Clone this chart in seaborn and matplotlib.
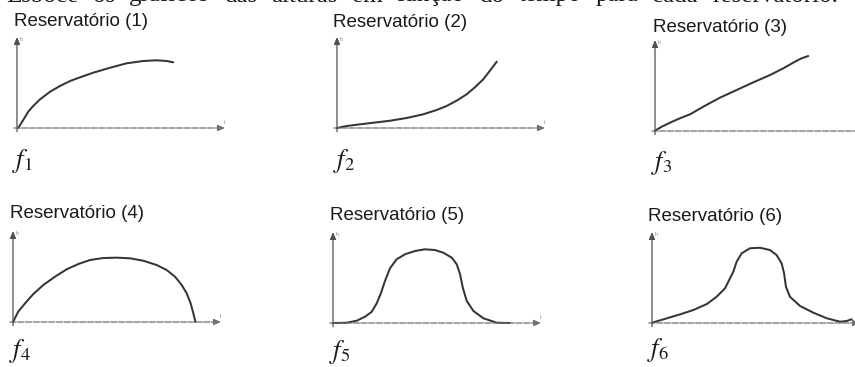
import matplotlib
matplotlib.use("Agg")
import matplotlib.pyplot as plt
import seaborn as sns

# ---- data: height of water (h) versus time (t) for each reservoir ----
t1 = [0.06, 0.30, 0.54, 0.78, 1.11, 1.59, 2.07, 2.55, 3.03, 3.67, 4.47, 5.27, 6.07, 6.72, 7.20, 7.51]
h1 = [0.00, 0.88, 1.79, 2.42, 3.15, 3.99, 4.62, 5.16, 5.57, 6.08, 6.62, 7.11, 7.36, 7.44, 7.36, 7.22]

t2 = [0.00, 0.47, 0.95, 1.75, 2.55, 3.35, 4.15, 4.79, 5.27, 5.75, 6.23, 6.63, 7.03, 7.35, 7.68]
h2 = [0.00, 0.22, 0.36, 0.58, 0.80, 1.10, 1.51, 1.98, 2.42, 3.00, 3.70, 4.47, 5.35, 6.29, 7.29]

t3 = [0.00, 0.32, 0.72, 1.20, 1.68, 2.32, 3.12, 3.93, 4.73, 5.53, 6.17, 6.73, 7.05, 7.37]
h3 = [0.03, 0.47, 0.91, 1.40, 1.83, 2.67, 3.66, 4.51, 5.35, 6.15, 6.89, 7.62, 7.99, 8.24]

t4 = [0.00, 0.25, 0.58, 0.98, 1.46, 2.02, 2.58, 3.14, 3.70, 4.34, 4.99, 5.63, 6.27,
      6.91, 7.39, 7.79, 8.11, 8.35, 8.54, 8.67, 8.75, 8.77]
h4 = [0.00, 1.13, 2.05, 3.08, 4.07, 4.98, 5.79, 6.37, 6.81, 7.03, 7.07, 7.00, 6.73,
      6.26, 5.71, 4.98, 4.07, 3.15, 2.05, 0.96, 0.22, 0.00]

t5 = [0.01, 0.66, 1.14, 1.54, 1.86, 2.10, 2.30, 2.50, 2.74, 3.06, 3.46, 3.94, 4.42,
      4.90, 5.30, 5.71, 5.95, 6.11, 6.24, 6.43, 6.75, 7.23, 7.87, 8.51]
h5 = [0.00, 0.03, 0.25, 0.69, 1.23, 2.15, 3.26, 4.62, 6.01, 7.00, 7.55, 7.91, 8.10,
      8.02, 7.73, 7.18, 6.45, 5.35, 3.88, 2.42, 1.32, 0.52, 0.03, 0.00]

t6 = [0.00, 0.71, 1.35, 1.99, 2.64, 3.11, 3.51, 3.75, 3.91, 4.07, 4.31, 4.71, 5.19,
      5.67, 5.99, 6.23, 6.35, 6.44, 6.63, 7.12, 7.76, 8.40, 9.04, 9.36, 9.60]
h6 = [0.03, 0.51, 0.95, 1.43, 2.09, 2.89, 3.81, 4.91, 5.64, 6.74, 7.66, 8.21, 8.27,
      8.02, 7.47, 6.56, 5.46, 3.99, 2.89, 1.87, 1.13, 0.52, 0.14, 0.22, 0.41]

titles = ["Reservatório (1)", "Reservatório (2)", "Reservatório (3)",
          "Reservatório (4)", "Reservatório (5)", "Reservatório (6)"]
func_labels = ["$f_1$", "$f_2$", "$f_3$", "$f_4$", "$f_5$", "$f_6$"]
heading_words = ["Esboce", "os", "gráficos", "das", "alturas", "em", "função",
                 "do", "tempo", "para", "cada", "reservatório."]

series = [(t1, h1), (t2, h2), (t3, h3), (t4, h4), (t5, h5), (t6, h6)]

# ---- layout (pixels) ----
W, H = 855, 367
AX_W, AX_H = 208, 91
origins = [(17, 128), (337, 128), (655, 131), (13, 322), (333, 323), (652, 323)]
title_pos = [(14, 26), (333, 27), (653, 32), (10, 218), (330, 220), (648, 221)]
label_pos = [(12, 167), (333, 167), (651, 169), (9, 357), (329, 358), (647, 356)]
show_t_mark = [True, True, False, True, True, False]

sns.set_theme(style="white")
plt.rcParams["font.family"] = ["Liberation Sans", "DejaVu Sans"]
plt.rcParams["mathtext.fontset"] = "stix"

fig = plt.figure(figsize=(W / 100, H / 100), dpi=100)
fig.patch.set_facecolor("white")

curve_color = "#353535"
axis_color = "#505050"

for i, ((t, h), (ox, oy)) in enumerate(zip(series, origins)):
    ax = fig.add_axes([(ox - 4) / W, 1 - (oy + 4) / H, (AX_W + 8) / W, (AX_H + 8) / H])
    ax.set_xlim(-4 / 20.8, 10 + 4 / 20.8)
    ax.set_ylim(-4 / 9.1, 10 + 4 / 9.1)
    ax.axis("off")
    ax.patch.set_alpha(0)

    # coordinate axes with small arrowheads
    ax.annotate("", xy=(10, 0), xytext=(-0.15, 0),
                arrowprops=dict(arrowstyle="-|>,head_length=0.35,head_width=0.15",
                                color="#707070", lw=0.9, linestyle=(0, (5, 1.2)),
                                shrinkA=0, shrinkB=0))
    ax.annotate("", xy=(0, 10), xytext=(0, -0.4),
                arrowprops=dict(arrowstyle="-|>,head_length=0.35,head_width=0.15",
                                color=axis_color, lw=0.9, shrinkA=0, shrinkB=0))
    ax.text(0.12, 10, "h", fontsize=3.5, color="#777777", ha="left", va="top")
    if show_t_mark[i]:
        ax.text(10, 0.35, "t", fontsize=3.5, color="#777777", ha="center", va="bottom")

    sns.lineplot(x=t, y=h, ax=ax, color=curve_color, lw=1.45, sort=False,
                 estimator=None, legend=False)
    for line in ax.lines:
        line.set_solid_joinstyle("round")
        line.set_solid_capstyle("round")

    tx, ty = title_pos[i]
    fig.text(tx / W, 1 - ty / H, titles[i], fontsize=13.5, color="#1a1a1a",
             ha="left", va="baseline")
    lx, ly = label_pos[i]
    fig.text(lx / W, 1 - ly / H, func_labels[i], fontsize=19, color="#1a1a1a",
             ha="left", va="baseline")

# heading sentence, justified across the page width (only its lower part is on the page)
left_px, right_px = 6, 838
words = [fig.text(0, 1 - 1.5 / H, w, fontsize=18, family="Liberation Serif",
                  color="#1a1a1a", ha="left", va="baseline") for w in heading_words]
renderer = fig.canvas.get_renderer()
widths = [w.get_window_extent(renderer).width for w in words]
gap = (right_px - left_px - sum(widths)) / (len(words) - 1)
x = left_px
for w, wd in zip(words, widths):
    w.set_x(x / W)
    x += wd + gap

fig.savefig("out.png", dpi=100, facecolor="white")
